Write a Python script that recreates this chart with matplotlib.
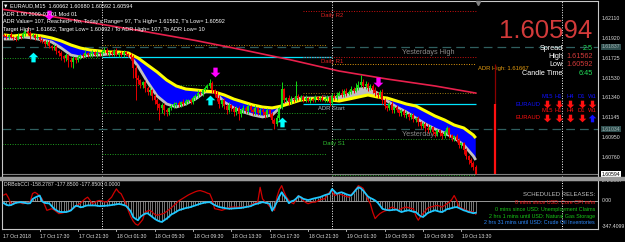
import matplotlib
matplotlib.use("Agg")
import matplotlib.pyplot as plt
from matplotlib.patches import Rectangle
from matplotlib.path import Path

W, H = 625, 242
FONT = ["Liberation Sans", "DejaVu Sans"]

# ---------------------------------------------------------------- data
# M15 bars counted from 17 Oct 2018 00:00, prices as points over 1.60000
first_bar = 55
first_open = 1950
closes = [1944, 1934, 1954, 1934, 1924, 1915, 1944, 1934, 1963, 1993,
          1973, 1944, 1954, 1924, 1934, 1905, 1895, 1866, 1885, 1846,
          1826, 1836, 1797, 1777, 1748, 1729, 1758, 1709, 1689, 1729,
          1709, 1738, 1758, 1748, 1777, 1758, 1768, 1787, 1758, 1777,
          1768, 1787, 1807, 1777, 1787, 1768, 1797, 1758, 1777, 1758,
          1787, 1768, 1758, 1738, 1631, 1533, 1513, 1465, 1494, 1435,
          1396, 1416, 1357, 1318, 1279, 1240, 1269, 1220, 1201, 1240,
          1259, 1279, 1288, 1269, 1298, 1279, 1308, 1318, 1298, 1337,
          1357, 1386, 1376, 1416, 1435, 1455, 1484, 1416, 1376, 1337,
          1279, 1318, 1259, 1220, 1269, 1240, 1201, 1240, 1181, 1220,
          1240, 1210, 1259, 1220, 1201, 1240, 1191, 1220, 1201, 1171,
          1220, 1181, 1122, 1083, 1142, 1240, 1420, 1318, 1337, 1298,
          1327, 1318, 1357, 1337, 1347, 1318, 1337, 1308, 1327, 1318,
          1347, 1327, 1337, 1318, 1327, 1347, 1287, 1357, 1337, 1367,
          1386, 1367, 1406, 1376, 1396, 1425, 1406, 1435, 1465, 1494,
          1455, 1474, 1435, 1455, 1416, 1386, 1367, 1396, 1318, 1259,
          1240, 1279, 1220, 1249, 1220, 1191, 1210, 1171, 1181, 1152,
          1171, 1132, 1142, 1103, 1063, 1083, 1044, 1024, 1054, 1005,
          985, 1024, 995, 966, 1005, 1044, 975, 946, 966, 927,
          878, 897, 829, 770, 731, 700, 662, 594]
up_wick = [15, 20, 10, 25, 12, 18, 30, 10, 20, 20,
           39, 15, 20, 10, 25, 12, 18, 10, 20, 15,
           10, 25, 15, 10, 20, 12, 18, 10, 25, 15,
           12, 20, 10, 18, 25, 10, 15, 20, 12, 30,
           10, 15, 30, 18, 12, 20, 15, 25, 10, 18,
           15, 12, 10, 15, 20, 25, 30, 15, 10, 20,
           18, 25, 12, 15, 20, 10, 18, 15, 22, 12,
           15, 20, 10, 18, 12, 25, 15, 10, 20, 18,
           15, 25, 20, 12, 18, 18, 40, 15, 10, 25,
           30, 12, 20, 15, 25, 10, 18, 20, 15, 12,
           25, 15, 20, 10, 18, 25, 12, 15, 20, 10,
           18, 12, 20, 15, 25, 10, 74, 20, 15, 25,
           30, 18, 150, 20, 15, 20, 25, 12, 18, 15,
           20, 12, 18, 25, 15, 20, 10, 30, 18, 25,
           15, 40, 20, 25, 15, 30, 20, 50, 40, 68,
           25, 30, 15, 20, 18, 25, 12, 15, 30, 20,
           12, 18, 25, 15, 20, 10, 15, 18, 25, 12,
           20, 15, 10, 18, 12, 15, 20, 35, 18, 12,
           10, 15, 12, 10, 20, 18, 10, 15, 12, 20,
           15, 10, 12, 18, 10, 15, 18, 18]
dn_wick = [12, 20, 15, 10, 18, 25, 12, 15, 10, 20,
           15, 25, 12, 18, 10, 20, 15, 25, 12, 18,
           20, 15, 25, 30, 40, 35, 30, 69, 45, 59,
           25, 20, 15, 18, 12, 20, 15, 25, 12, 18,
           15, 20, 12, 18, 25, 15, 20, 12, 18, 15,
           20, 15, 18, 25, 100, 215, 40, 30, 25, 40,
           25, 30, 35, 40, 60, 118, 45, 50, 35, 25,
           20, 15, 25, 18, 20, 15, 12, 18, 20, 15,
           15, 20, 12, 18, 15, 12, 20, 25, 30, 25,
           40, 30, 25, 35, 20, 30, 40, 25, 59, 30,
           25, 20, 30, 15, 25, 30, 20, 15, 25, 30,
           20, 25, 30, 49, 20, 15, 10, 25, 20, 30,
           15, 20, 12, 18, 25, 15, 20, 12, 18, 15,
           20, 15, 18, 12, 20, 25, 30, 15, 20, 15,
           12, 18, 15, 20, 12, 15, 18, 12, 15, 20,
           20, 25, 30, 20, 25, 30, 25, 20, 35, 30,
           25, 20, 30, 25, 20, 30, 25, 20, 25, 30,
           20, 25, 30, 35, 25, 20, 30, 25, 20, 30,
           25, 20, 30, 25, 15, 20, 25, 30, 25, 20,
           25, 30, 35, 30, 40, 35, 30, 2]

# two moving averages forming the band (every 4th bar + last)
band_idx = list(range(0, 197, 4)) + [197]
band_yellow = [1954, 1944, 1954, 1954, 1944, 1924, 1895, 1856, 1826, 1807,
               1797, 1787, 1787, 1777, 1729, 1660, 1592, 1513, 1455, 1425,
               1416, 1406, 1396, 1367, 1327, 1298, 1269, 1249, 1240, 1259,
               1288, 1318, 1327, 1337, 1318, 1308, 1327, 1347, 1367, 1347,
               1337, 1308, 1279, 1259, 1210, 1161, 1122, 1073, 1044, 975, 946]
band_silver = [1914, 1914, 1934, 1924, 1905, 1885, 1826, 1758, 1738, 1758,
               1758, 1768, 1777, 1768, 1650, 1494, 1357, 1279, 1249, 1279,
               1327, 1396, 1396, 1298, 1240, 1201, 1171, 1152, 1171, 1259,
               1318, 1337, 1337, 1337, 1337, 1347, 1376, 1425, 1435, 1386,
               1308, 1249, 1201, 1142, 1083, 1034, 995, 946, 878, 770, 731]

# slow moving average (crimson)
slow_idx = [0, 20, 40, 60, 80, 100, 120, 140, 160, 180, 197]
slow_ma = [2203, 2134, 2061, 1983, 1900, 1807, 1709, 1601, 1523, 1455, 1386]

# signal arrows (bar index, points)
sell_idx = [19, 88, 156]
sell_pts = [2149, 1592, 1494]
buy_idx = [12, 86, 116]
buy_pts = [1738, 1318, 1103]

# DRBobCCI, per bar
cci_fast = [80, 96, 40, -37, -30, -20, -16, -25, -37, -30,
            -22, -16, 100, 117, 96, 60, 29, -50, -126, -115,
            -104, -120, -145, -170, -165, -157, -149, -135, -115, -100,
            -75, -50, -30, 0, 30, 51, 10, -37, -20, 0,
            7, 0, -10, -16, 20, 51, 110, 162, 120, 96,
            30, -37, -130, -210, -270, -310, -326, -290, -250, -149,
            -135, -126, -150, -180, -193, -185, -175, -165, -140, -115,
            -90, -60, -30, 0, 20, 40, 60, 80, 96, 110,
            125, 135, 140, 130, 120, 105, 96, 20, -104, -110,
            -118, -126, -115, -100, -90, -82, -82, -82, -82, -82,
            -82, -82, -70, -55, -40, -25, -16, 184, 29, -10,
            -37, -75, -104, -126, 50, 150, 206, 120, 51, 10,
            -20, -37, 20, 73, 40, 7, -20, -37, -25, -16,
            -16, 0, 15, 25, 29, 80, 120, 140, 73, 85,
            96, 85, 70, 60, 51, 80, 120, 160, 206, 190,
            170, 100, 20, -37, -150, -237, -200, -170, -150, -135,
            -126, -100, -82, -95, -110, -126, -100, -90, -82, -90,
            -100, -104, -200, -259, -210, -170, -130, -95, -82, -75,
            -65, -60, -70, -82, -60, -35, -16, 20, 73, 10,
            -82, -95, -110, -126, -135, -142, -149, -178]
cci_slow = [-30, -50, -60, -55, -40, -25, -20, -16, -22, -28,
            -33, -30, 25, 45, 60, 73, -5, -25, -30, -33,
            -70, -105, -125, -145, -149, -149, -149, -140, -128, -95,
            -65, -70, -85, -80, -66, -60, -60, -60, -60, -65,
            -69, -68, -66, -62, -60, -55, -50, -45, -40, -45,
            -55, -65, -100, -140, -215, -240, -259, -215, -190, -170,
            -165, -190, -215, -240, -260, -275, -282, -260, -237, -210,
            -180, -165, -145, -125, -115, -105, -95, -88, -82, -70,
            -60, -48, -37, -30, -22, -18, -16, -35, -55, -70,
            -82, -88, -95, -100, -104, -102, -100, -98, -96, -94,
            -88, -82, -76, -70, -55, -42, -35, -25, -16, -22,
            -30, -37, -130, -80, -10, 60, 117, 70, 29, -30,
            -5, 5, 30, 65, 50, 29, 20, 12, 20, 30,
            38, 45, 52, 65, 78, 88, 96, 160, 130, 96,
            110, 117, 105, 90, 80, 73, 110, 150, 184, 170,
            140, 100, 60, 40, 25, 7, -20, -60, -104, -115,
            -122, -126, -122, -118, -117, -135, -149, -140, -130, -126,
            -135, -145, -149, -180, -205, -215, -190, -160, -149, -135,
            -126, -135, -145, -149, -130, -110, -104, -95, -86, -82,
            -95, -110, -126, -135, -149, -155, -165, -158]

# levels
r2, r1, pivot, s1, s2 = 1.62189, 1.61738, 1.61386, 1.60935, 1.60583
adr_start, adr_high = 1.61279, 1.61667
yest_high, yest_low = 1.61837, 1.61034
prev_open = 1.61739
prev_pivot = 1.61856
prev_supports = [1.61465, 1.61191, 1.60790]
old_supports = [1.61729, 1.61435, 1.60888]
bid = 1.60594

price_ticks = [1.62110, 1.61920, 1.61725, 1.61530, 1.61340, 1.61145,
               1.60950, 1.60760]
time_ticks = [70 + 16 * k for k in range(12)]
time_labels = ["17 Oct 17:30", "17 Oct 21:30", "18 Oct 01:30", "18 Oct 05:30",
               "18 Oct 09:30", "18 Oct 13:30", "18 Oct 17:30", "18 Oct 21:30",
               "19 Oct 01:30", "19 Oct 05:30", "19 Oct 09:30", "19 Oct 13:30"]
day_starts = [96, 192, 288]

releases = ["0 mins since USD: Core CPI m/m",
            "0 mins since USD: Unemployment Claims",
            "2 hrs 1 mins until USD: Natural Gas Storage",
            "2 hrs 31 mins until USD: Crude Oil Inventories"]
release_colors = ["#FF1A1A", "#16C816", "#16C816", "#2E8BFF"]

assert len(closes) == len(up_wick) == len(dn_wick) == 198
assert len(cci_fast) == len(cci_slow) == 198
assert len(band_yellow) == len(band_silver) == len(band_idx)


def pr(p):
    return 1.6 + p / 1e5


def fx(x):
    return x / W


def fy(y):
    return 1 - y / H


# thick arrow markers like the terminal's wingdings arrows
DOWN = Path([(-0.22, 0.5), (0.22, 0.5), (0.22, -0.02), (0.5, -0.02), (0, -0.5),
             (-0.5, -0.02), (-0.22, -0.02), (-0.22, 0.5)], closed=True)
UP = Path([(x, -y) for x, y in DOWN.vertices], closed=True)

BULL, BEAR = "#12D812", "#E80000"
DOT = (0, (1, 1.6))

fig = plt.figure(figsize=(W / 100, H / 100), dpi=100, facecolor="black")
t_left, t_right = 54.26, 303.03

ax = fig.add_axes([fx(2), fy(177), 596 / W, 176 / H])
ax.set_facecolor("black")
ax.set_xlim(t_left, t_right)
ax.set_ylim(1.605648, 1.62286)

ax2 = fig.add_axes([fx(2), fy(229), 596 / W, 49 / H])
ax2.set_facecolor("black")
ax2.set_xlim(t_left, t_right)
ax2.set_ylim(-377, 282)

for a in (ax, ax2):
    a.set_xticks([])
    a.set_yticks([])
    for s in a.spines.values():
        s.set_color("#C8C8C8")
        s.set_linewidth(0.8)
    for d in day_starts:
        a.axvline(d, color="white", ls=DOT, lw=0.7, zorder=1)

fig.patches.append(Rectangle((0, fy(179.5)), 1, 2.5 / H, transform=fig.transFigure,
                             color="#9A9A9A", zorder=0))

# ---- horizontal levels
ax.hlines(old_supports, t_left, 95, color="#1FA01F", ls=DOT, lw=0.7, zorder=1)
ax.hlines(prev_supports, 96, 190, color="#1FA01F", ls=DOT, lw=0.7, zorder=1)
ax.hlines(prev_pivot, 96, 190, color="#B8860B", ls=DOT, lw=0.7, zorder=1)
ax.hlines(prev_open, 96, 192, color="#00E5FF", lw=0.9, zorder=1)
ax.hlines([yest_high, yest_low], t_left, t_right, color="#2F5F5F",
          ls=(0, (7, 4)), lw=0.9, zorder=1)
ax.hlines([r2, r1], 180, 252, color="#D01010", ls=DOT, lw=0.7, zorder=1)
ax.hlines(pivot, 180, 252, color="#9A7A10", ls=DOT, lw=0.7, zorder=1)
ax.hlines([s1, s2], 192, 252, color="#1FA01F", ls=DOT, lw=0.7, zorder=1)
ax.hlines(adr_high, 192, 252, color="#E39A10", ls=DOT, lw=0.7, zorder=1)
ax.hlines(adr_start, 180, 252, color="#00E5FF", lw=0.9, zorder=1)
ax.axhline(bid, color="#808080", lw=0.8, zorder=1)

lbl = dict(fontsize=4.2, family=FONT, va="top", zorder=1,
           xytext=(0, -1.5), textcoords="offset points")
ax.annotate("Daily R2", (187.5, r2), color="#E02020", **lbl)
ax.annotate("Daily R1", (187.5, r1), color="#E02020", **lbl)
ax.annotate("Daily Pivot", (188, pivot), color="#909090", **lbl)
ax.annotate("ADR Start", (186.3, adr_start), color="#A8B8C8", **lbl)
ax.annotate("Daily S1", (188.3, s1), color="#30C030", **lbl)
ax.annotate("Daily S2", (188.3, s2), color="#30C030", annotation_clip=False,
            clip_on=True, **lbl)
ax.annotate("Yesterdays High", (232, yest_high), xytext=(0, -1.5), textcoords="offset points",
            color="#8A8A8A", ha="center", fontsize=5.2, family=FONT, va="top", zorder=1)
ax.annotate("Yesterdays Low", (232, yest_low), xytext=(0, -1.5), textcoords="offset points",
            color="#8A8A8A", ha="center", fontsize=5.2, family=FONT, va="top", zorder=1)
ax.annotate("ADR High: 1.61667", (253, adr_high), color="#E39A10", **lbl)

# ---- ADR range bar
ax.vlines(260, adr_start, adr_high, color="#8B0000", lw=0.9, zorder=2)
ax.vlines(260, bid, adr_start, color="#FF1010", lw=1.6, zorder=2)

# ---- band
bt = [first_bar + i for i in band_idx]
yl = [pr(v) for v in band_yellow]
sl = [pr(v) for v in band_silver]
ax.fill_between(bt, yl, sl, where=[s < y for s, y in zip(sl, yl)], interpolate=True,
                color="#0000FF", lw=0, zorder=2)
ax.fill_between(bt, yl, sl, where=[s >= y for s, y in zip(sl, yl)], interpolate=True,
                color="#C0C0C0", lw=0, zorder=2)
ax.plot(bt, sl, color="#C0C0C0", lw=2.0, zorder=3, solid_capstyle="butt")
ax.plot(bt, yl, color="#FFFF00", lw=2.2, zorder=3, solid_capstyle="butt")

# ---- slow MA
ax.plot([first_bar + i for i in slow_idx], [pr(v) for v in slow_ma],
        color="#E8204C", lw=1.2, zorder=3)

# ---- candles
bars = list(range(first_bar, first_bar + len(closes)))
opens = [first_open] + closes[:-1]
cols, hi, lo, btop, bbot = [], [], [], [], []
for o, c, u, d in zip(opens, closes, up_wick, dn_wick):
    cols.append(BULL if c > o else BEAR)
    hi.append(pr(max(o, c) + u))
    lo.append(pr(min(o, c) - d))
    btop.append(pr(max(o, c) + 1))
    bbot.append(pr(min(o, c) - 1))
ax.vlines(bars, lo, hi, colors=cols, lw=0.7, zorder=4)
ax.vlines(bars, bbot, btop, colors=cols, lw=1.5, zorder=4)

# ---- arrows
ax.plot([first_bar + i for i in sell_idx], [pr(p) for p in sell_pts], ls="none",
        marker=DOWN, ms=7, color="#FF00FF", mec="none", zorder=6)
ax.plot([first_bar + i for i in buy_idx], [pr(p) for p in buy_pts], ls="none",
        marker=UP, ms=7, color="#00FFFF", mec="none", zorder=6)

# chart shift marker
ax.plot([first_bar + len(closes)], [1.6227], marker="v", color="#808080", ms=3, zorder=6,
        clip_on=False)

# ---- price axis
ytr = ax.get_yaxis_transform()
for p in price_ticks:
    ax.text(1.006, p, "%.5f" % p, transform=ytr, color="#E0E0E0", fontsize=3.7,
            family=FONT, va="center", ha="left", clip_on=False)
for p in (yest_high, yest_low):
    ax.text(1.006, p, "%.5f" % p, transform=ytr, color="#A0B0B0", fontsize=3.7,
            family=FONT, va="center", ha="left", clip_on=False,
            bbox=dict(boxstyle="square,pad=0.15", fc="#2F4F4F", ec="none"))
ax.text(1.006, bid, "%.5f" % bid, transform=ytr, color="black", fontsize=3.7,
        family=FONT, va="center", ha="left", clip_on=False,
        bbox=dict(boxstyle="square,pad=0.15", fc="white", ec="none"))

# ---- CCI panel
ax2.axhline(0, color="#B0B0B0", lw=0.6, zorder=1)
ax2.vlines(bars, 0, cci_slow, color="#A8A8A8", lw=0.5, zorder=2)
ax2.plot(bars, cci_fast, color="#D00000", lw=0.9, zorder=3)
ax2.plot(bars, cci_slow, color="#1EC8FF", lw=1.3, zorder=4)
ytr2 = ax2.get_yaxis_transform()
for v, s in ((272.2567, "272.2567"), (0, "0.00"), (-347.4099, "-347.4099")):
    ax2.text(1.006, v, s, transform=ytr2, color="#E0E0E0", fontsize=3.7,
             family=FONT, va="center", ha="left", clip_on=False)

xtr2 = ax2.get_xaxis_transform()
ax2.text(t_left + 0.3, -0.145, "17 Oct 2018", transform=xtr2, color="#E0E0E0",
         fontsize=3.7, family=FONT, va="center", ha="left", clip_on=False)
for t, s in zip(time_ticks, time_labels):
    ax2.text(t + 0.3, -0.145, s, transform=xtr2, color="#E0E0E0",
             fontsize=3.7, family=FONT, va="center", ha="left", clip_on=False)
    ax2.plot([t, t], [-0.05, 0], transform=xtr2, color="#C8C8C8", lw=0.6, clip_on=False)

fig.text(fx(4), fy(185), "DRBobCCI -158.2787 -177.8500 -177.8500 0.0000",
         color="#E0E0E0", fontsize=3.7, family=FONT, va="center")
fig.text(fx(595), fy(195), "SCHEDULED RELEASES:", color="#C0C0C0", fontsize=4.3,
         family=FONT, va="center", ha="right")
for k, (s, c) in enumerate(zip(releases, release_colors)):
    fig.text(fx(595), fy(203 + 6.6 * k), s, color=c, fontsize=3.9, family=FONT,
             va="center", ha="right")

# ---- info text top-left
info = ["\u25bc EURAUD,M15  1.60662 1.60680 1.60592 1.60594",
        "ADR 1.00 2009-07-01 Mod 01",
        "ADR Value= 107, Reached= No, Today's Range= 97, T's High= 1.61562, T's Low= 1.60592",
        "Target High= 1.61662, Target Low= 1.60492 / To ADR High= 107, To ADR Low= 10"]
for s, y in zip(info, (5.3, 14, 21, 29)):
    fig.text(fx(3), fy(y), s, color="white", fontsize=4.0, family=FONT, va="center")

# ---- price panel top-right
fig.text(fx(592), fy(38.5), "1.60594", color="#D23A3A", fontsize=18.5, family=FONT,
         va="baseline", ha="right")
rows = [("Spread", "2.5", "#22E05A"), ("High", "1.61562", "#D23A3A"),
        ("Low", "1.60592", "#D23A3A"), ("Candle Time", "6:45", "#22E05A")]
for k, (name, val, c) in enumerate(rows):
    fig.text(fx(563), fy(48 + 8.5 * k), name, color="white", fontsize=5.2,
             family=FONT, va="center", ha="right")
    fig.text(fx(593), fy(48 + 8.5 * k), val, color=c, fontsize=5.2,
             family=FONT, va="center", ha="right")

# ---- multi timeframe trend block
tfs = ["M15", "H1", "H4", "D1", "W1"]
tf_x = [547, 558.5, 570, 581.5, 592]
trend_a = ["down", "down", "down", "down", "down"]
trend_b = ["down", "down", "down", "down", "up"]
for ycap, yarr, col, trend in ((97, 104, "#1010FF", trend_a),
                               (111, 118, "#FF1010", trend_b)):
    fig.text(fx(541), fy(yarr), "EURAUD", color=col, fontsize=4.2, family=FONT,
             va="center", ha="right")
    for x, tf, tr in zip(tf_x, tfs, trend):
        fig.text(fx(x), fy(ycap), tf, color=col, fontsize=4.2, family=FONT,
                 va="center", ha="center")
        ax.plot([fx(x)], [fy(yarr)], transform=fig.transFigure, clip_on=False,
                marker=DOWN if tr == "down" else UP, ms=5.5, mec="none",
                color="#FF1010" if tr == "down" else "#1010FF", zorder=7)

fig.savefig("out.png", dpi=100, facecolor="black")
